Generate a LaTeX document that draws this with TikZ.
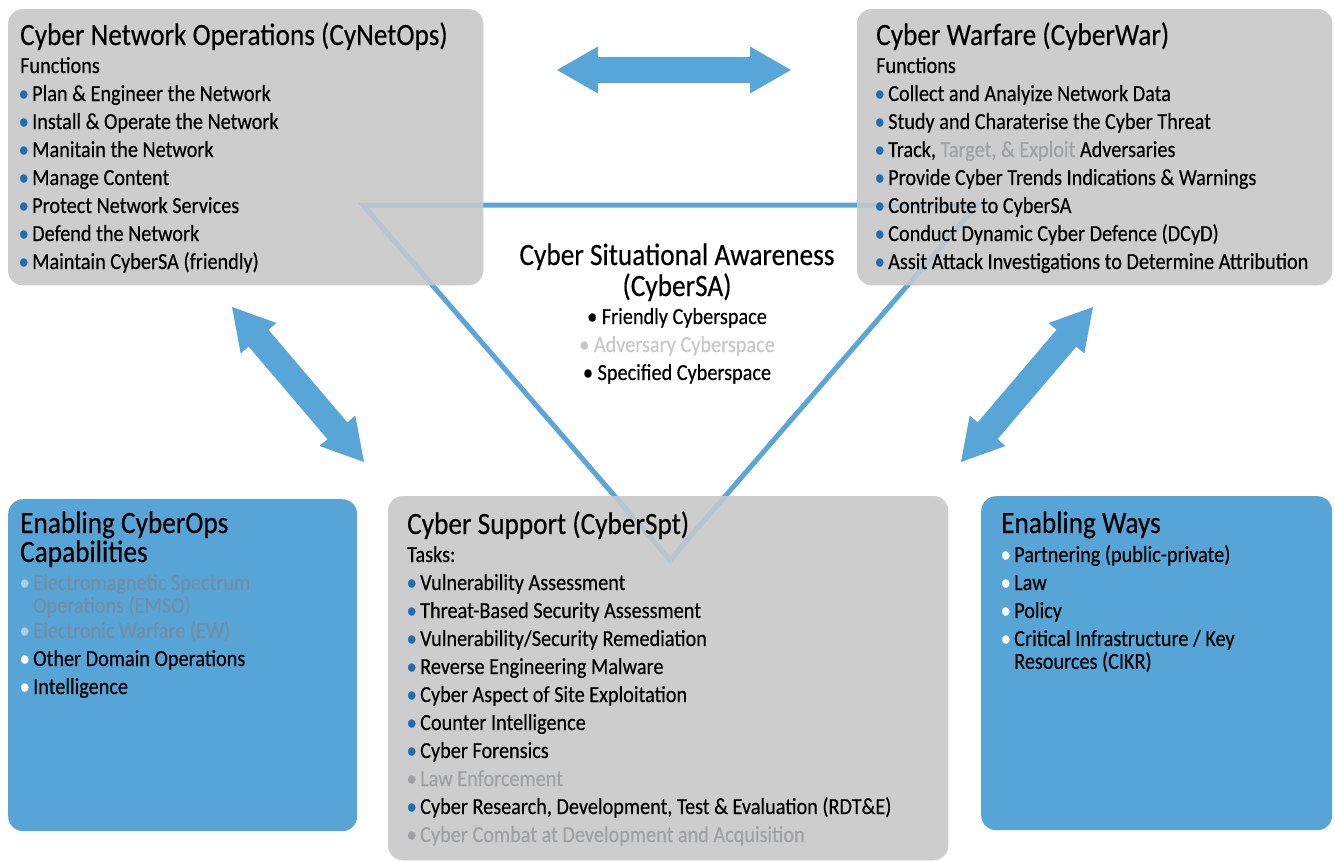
\documentclass[tikz,border=0pt]{standalone}
\usepackage{fontspec}
\setmainfont{Carlito}[FakeStretch=0.88, FakeBold=0.4]

\definecolor{boxgray}{RGB}{205,205,205}
\definecolor{boxblue}{RGB}{87,165,214}
\definecolor{arrowblue}{RGB}{88,166,215}
\definecolor{lineblue}{RGB}{91,165,215}
\definecolor{dotblue}{RGB}{31,110,180}
\definecolor{fadegray}{RGB}{158,160,163}
\definecolor{advgray}{RGB}{200,200,200}
\definecolor{fadeblue}{RGB}{116,142,166}
\definecolor{fadedot}{RGB}{175,205,230}

\newcommand{\titlefont}{\fontsize{31}{31}\selectfont}
\newcommand{\bodyfont}{\fontsize{23}{28}\selectfont}
\newcommand{\wrapfont}{\fontsize{23}{20}\selectfont}
\newcommand{\bul}[1]{\makebox[12pt][l]{\hspace{-1.5pt}\textcolor{#1}{\textbullet}}}
% two-line item text, first line on the node baseline
\newcommand{\twoline}[2]{\begin{tabular}[t]{@{}l@{}}#1\\#2\end{tabular}}
% double-headed block arrow: start point, direction angle, length
\newcommand{\biarrow}[3]{%
  \fill[arrowblue, shift={(#1)}, rotate=#2]
    (0,0) -- (41,23.5) -- (41,13) -- (#3-41,13) -- (#3-41,23.5) -- (#3,0)
    -- (#3-41,-23.5) -- (#3-41,-13) -- (41,-13) -- (41,-23.5) -- cycle;}

\begin{document}
\begin{tikzpicture}[x=1pt, y=-1pt,
  panel/.style={anchor=north west, inner sep=0, draw=none, rounded corners=15},
  graypanel/.style={panel, fill=boxgray},
  bluepanel/.style={panel, fill=boxblue},
  ttl/.style={anchor=base west, inner sep=0, font=\titlefont},
  itm/.style={anchor=base west, inner sep=0, font=\bodyfont},
  wrapitm/.style={anchor=base west, inner sep=0, font=\wrapfont}]
\useasboundingbox (0,0) rectangle (1335,862);

% panels
\node[graypanel, minimum width=475, minimum height=276] (ops) at (8,9) {};
\node[graypanel, minimum width=475, minimum height=276] (war) at (857,9) {};
\node[graypanel, minimum width=560, minimum height=364] (spt) at (388,496) {};
\node[bluepanel, minimum width=349, minimum height=332] (cap) at (8,499) {};
\node[bluepanel, minimum width=351, minimum height=334] (ways) at (981,496) {};

% situational awareness triangle
\coordinate (t1) at (363,205);
\coordinate (t2) at (977,205);
\coordinate (t3) at (670,560);
\draw[lineblue, line width=5, line join=miter] (t1) -- (t2) -- (t3) -- cycle;

% translucent veil so the triangle shows faintly through the grey panels
\foreach \p in {ops, war, spt}
  \fill[boxgray, opacity=0.8, rounded corners=15] (\p.north west) rectangle (\p.south east);

% block arrows between the areas
\coordinate (h1) at (557,70);
\coordinate (l1) at (232,307);
\coordinate (r1) at (961,462);
\biarrow{h1}{0}{234}
\biarrow{l1}{-49.58}{203.6}
\biarrow{r1}{49.58}{203.6}

% Cyber Network Operations
\node[ttl] (opsT) at (20,45) {Cyber Network Operations (CyNetOps)};
\node[itm] (opsF) at (20,73) {Functions};
\foreach \t [count=\i] in {Plan \& Engineer the Network, Install \& Operate the Network,
    Manitain the Network, Manage Content, Protect Network Services,
    Defend the Network, Maintain CyberSA (friendly)}
  \node[itm] (ops\i) at (20,73+28*\i) {\bul{dotblue}\t};

% Cyber Warfare
\node[ttl] (warT) at (876,45) {Cyber Warfare (CyberWar)};
\node[itm] (warF) at (876,73) {Functions};
\foreach \t [count=\i] in {Collect and Analyize Network Data,
    Study and Charaterise the Cyber Threat,
    {Track, \textcolor{fadegray}{Target, \& Exploit} Adversaries},
    Provide Cyber Trends Indications \& Warnings,
    Contribute to CyberSA, Conduct Dynamic Cyber Defence (DCyD),
    Assit Attack Investigations to Determine Attribution}
  \node[itm] (war\i) at (876,73+28*\i) {\bul{dotblue}\t};

% Cyber Situational Awareness
\node[ttl, anchor=base] (saT1) at (677,265) {Cyber Situational Awareness};
\node[ttl, anchor=base] (saT2) at (677,296) {(CyberSA)};
\node[itm, anchor=base] (sa1) at (677,324) {\textbullet\ Friendly Cyberspace};
\node[itm, anchor=base, text=advgray] (sa2) at (677,352) {\textbullet\ Adversary Cyberspace};
\node[itm, anchor=base] (sa3) at (677,380) {\textbullet\ Specified Cyberspace};

% Enabling CyberOps Capabilities
\node[ttl] (capT1) at (20,533) {Enabling CyberOps};
\node[ttl] (capT2) at (20,562) {Capabilities};
\node[wrapitm] (cap1) at (21,590)
  {\bul{fadedot}\textcolor{fadeblue}{\twoline{Electromagnetic Spectrum}{Operations (EMSO)}}};
\node[itm] (cap2) at (21,638) {\bul{fadedot}\textcolor{fadeblue}{Electronic Warfare (EW)}};
\node[itm] (cap3) at (21,666) {\bul{white}Other Domain Operations};
\node[itm] (cap4) at (21,694) {\bul{white}Intelligence};

% Cyber Support
\node[ttl] (sptT) at (407,534) {Cyber Support (CyberSpt)};
\node[itm] (sptK) at (407,562) {Tasks:};
\foreach \t [count=\i] in {Vulnerability Assessment,
    Threat-Based Security Assessment, Vulnerability/Security Remediation,
    Reverse Engineering Malware, Cyber Aspect of Site Exploitation,
    Counter Intelligence, Cyber Forensics}
  \node[itm] (spt\i) at (408,562+28*\i) {\bul{dotblue}\t};
\node[itm, text=fadegray] (spt8) at (408,786) {\bul{fadegray}Law Enforcement};
\node[itm] (spt9) at (408,814) {\bul{dotblue}Cyber Research, Development, Test \& Evaluation (RDT\&E)};
\node[itm, text=fadegray] (spt10) at (408,842) {\bul{fadegray}Cyber Combat at Development and Acquisition};

% Enabling Ways
\node[ttl] (wayT) at (1001,533) {Enabling Ways};
\node[itm] (way1) at (1002,562) {\bul{white}Partnering (public-private)};
\node[itm] (way2) at (1002,590) {\bul{white}Law};
\node[itm] (way3) at (1002,618) {\bul{white}Policy};
\node[wrapitm] (way4) at (1002,646)
  {\bul{white}\twoline{Critical Infrastructure / Key}{Resources (CIKR)}};
\end{tikzpicture}
\end{document}
